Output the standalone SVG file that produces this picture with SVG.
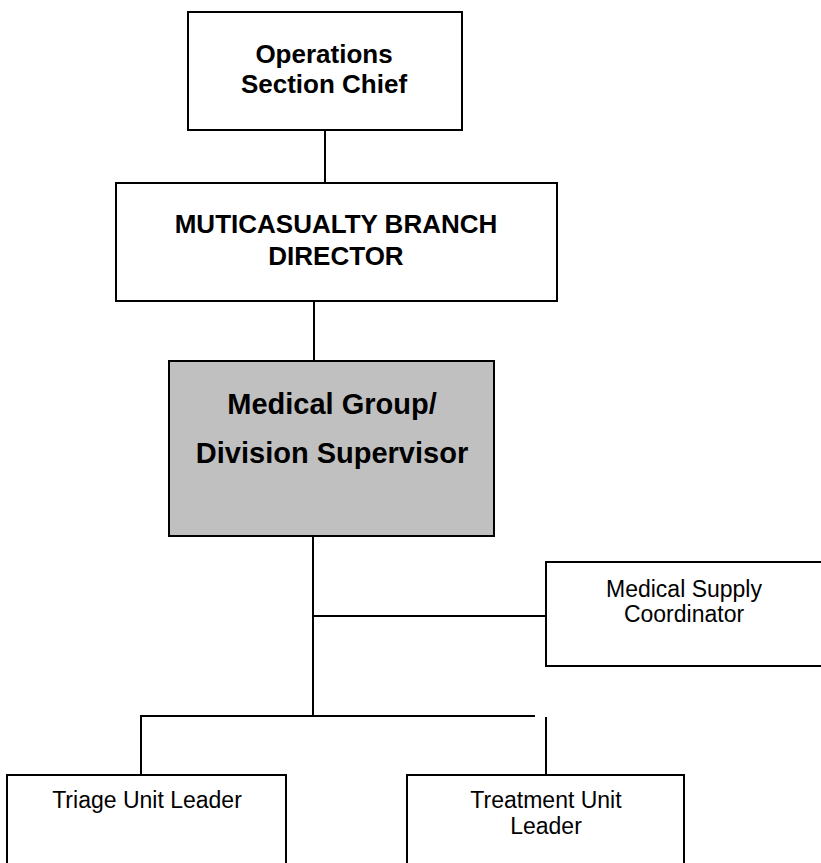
<svg xmlns="http://www.w3.org/2000/svg" width="821" height="863" viewBox="0 0 821 863">
  <style>
    .box { fill: #ffffff; stroke: #000000; stroke-width: 2; }
    .grey { fill: #c0c0c0; stroke: #000000; stroke-width: 2; }
    .link { stroke: #000000; stroke-width: 2; fill: none; }
    .bold { font-family: "Liberation Sans", Arial, sans-serif; font-weight: bold; text-anchor: middle; fill: #000000; }
    .reg { font-family: "Liberation Sans", Arial, sans-serif; font-size: 23px; text-anchor: middle; fill: #000000; }
  </style>
  <rect width="821" height="863" fill="#ffffff"/>

  <g id="connectors">
    <line class="link" x1="325" y1="130" x2="325" y2="183"/>
    <line class="link" x1="314" y1="301" x2="314" y2="361"/>
    <line class="link" x1="313" y1="536" x2="313" y2="716"/>
    <line class="link" x1="313" y1="616" x2="546" y2="616"/>
    <line class="link" x1="140" y1="716" x2="535" y2="716"/>
    <line class="link" x1="141" y1="716" x2="141" y2="775"/>
    <line class="link" x1="546" y1="717" x2="546" y2="775"/>
  </g>

  <g id="operations-chief">
    <rect class="box" x="188" y="12" width="274" height="118"/>
    <text class="bold" font-size="26" x="324" y="63">Operations</text>
    <text class="bold" font-size="26" x="324" y="93">Section Chief</text>
  </g>

  <g id="branch-director">
    <rect class="box" x="116" y="183" width="441" height="118"/>
    <text class="bold" font-size="26" x="336" y="233">MUTICASUALTY BRANCH</text>
    <text class="bold" font-size="26" x="336" y="265">DIRECTOR</text>
  </g>

  <g id="medical-supervisor">
    <rect class="grey" x="169" y="361" width="325" height="175"/>
    <text class="bold" font-size="29" x="332" y="414">Medical Group/</text>
    <text class="bold" font-size="29" x="332" y="463">Division Supervisor</text>
  </g>

  <g id="supply-coordinator">
    <rect class="box" x="546" y="562" width="276" height="104"/>
    <text class="reg" x="684" y="597">Medical Supply</text>
    <text class="reg" x="684" y="622">Coordinator</text>
  </g>

  <g id="triage-leader">
    <rect class="box" x="7" y="775" width="279" height="100"/>
    <text class="reg" x="147" y="808">Triage Unit Leader</text>
  </g>

  <g id="treatment-leader">
    <rect class="box" x="407" y="775" width="277" height="100"/>
    <text class="reg" x="546" y="808">Treatment Unit</text>
    <text class="reg" x="546" y="834">Leader</text>
  </g>
</svg>
